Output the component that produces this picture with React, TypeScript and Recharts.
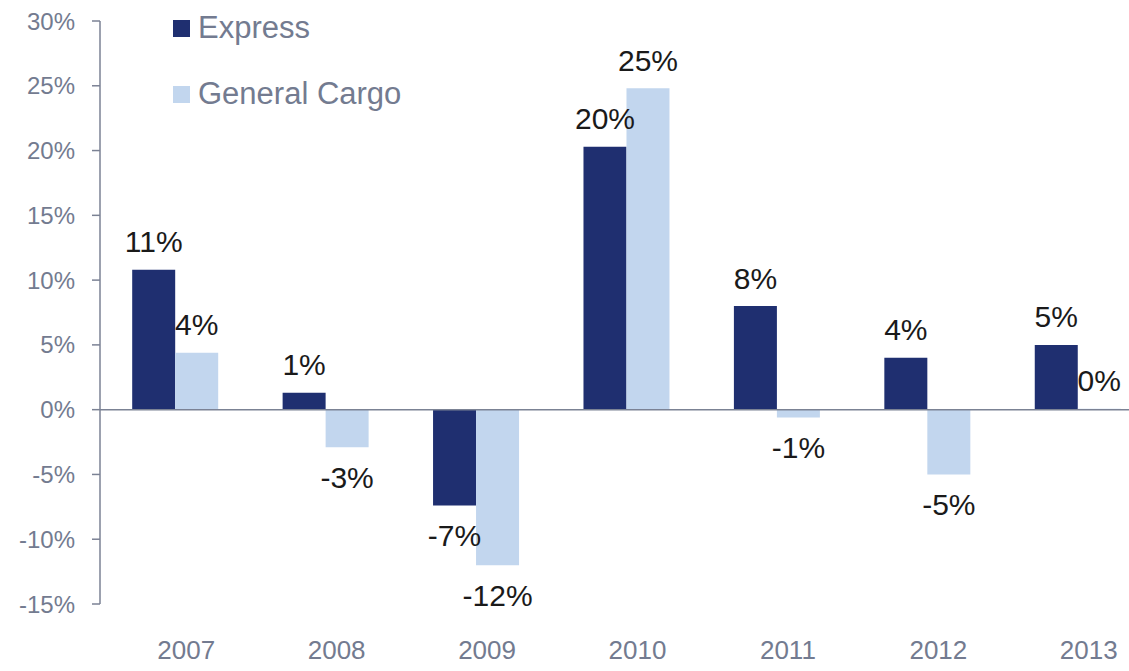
import { BarChart, Bar, XAxis, YAxis, ReferenceLine, Legend, LabelList } from 'recharts';

const years = ['2007', '2008', '2009', '2010', '2011', '2012', '2013'];
const expressGrowth = [10.8, 1.3, -7.4, 20.3, 8.0, 4.0, 5.0];
const generalCargoGrowth = [4.4, -2.9, -12.0, 24.8, -0.6, -5.0, 0];
const yTicks = [-15, -10, -5, 0, 5, 10, 15, 20, 25, 30];

const EXPRESS = '#1f2f70';
const GENERAL = '#c2d6ee';
const GREY = '#737b90';
const AXIS = '#7b8294';
const FONT = '"Liberation Sans", Arial, sans-serif';

const chartData = years.map((year, i) => ({
  year,
  express: expressGrowth[i],
  generalCargo: generalCargoGrowth[i],
}));

const series = [
  { key: 'express', name: 'Express', color: EXPRESS },
  { key: 'generalCargo', name: 'General Cargo', color: GENERAL },
];

function ValueLabel(props: any) {
  const { x, y, width, height, value } = props;
  const top = Math.min(y, y + height);
  const bottom = Math.max(y, y + height);
  const ty = value >= 0 ? top - 28 : bottom + 30;
  return (
    <text
      x={x + width / 2}
      y={ty}
      textAnchor="middle"
      dominantBaseline="central"
      fill="#1a1a1a"
      fontSize={30}
      fontFamily={FONT}
    >
      {`${Math.round(value)}%`}
    </text>
  );
}

function YearTick(props: any) {
  const { x, y, payload } = props;
  return (
    <text x={x + 11} y={y + 47} textAnchor="middle" fill={GREY} fontSize={26} fontFamily={FONT}>
      {payload.value}
    </text>
  );
}

function SeriesLegend() {
  return (
    <div style={{ fontFamily: FONT, fontSize: 31, color: GREY, lineHeight: '34px' }}>
      {series.map((s, i) => (
        <div key={s.key} style={{ display: 'flex', alignItems: 'center', height: 34, marginBottom: i === 0 ? 32 : 0 }}>
          <span style={{ display: 'inline-block', width: 17, height: 17, background: s.color, marginRight: 8 }} />
          {s.name}
        </div>
      ))}
    </div>
  );
}

export default function App() {
  return (
    <div style={{ position: 'fixed', top: 0, left: 0, width: 1129, height: 671, overflow: 'hidden', background: '#fff' }}>
      <BarChart
        width={1160}
        height={671}
        data={chartData}
        margin={{ top: 21, right: 7, bottom: 0, left: 0 }}
        barCategoryGap="21.4%"
        barGap={0}
      >
        <XAxis dataKey="year" axisLine={false} tickLine={false} height={67} tick={<YearTick />} interval={0} />
        <YAxis
          domain={[-15, 30]}
          ticks={yTicks}
          width={100}
          tickFormatter={(v: number) => `${v}%`}
          axisLine={{ stroke: AXIS, strokeWidth: 1.5 }}
          tickLine={{ stroke: AXIS, strokeWidth: 1.5 }}
          tickSize={8}
          tickMargin={17}
          tick={{ fill: GREY, fontSize: 24, fontFamily: FONT }}
        />
        <Legend
          layout="vertical"
          align="center"
          verticalAlign="middle"
          wrapperStyle={{ top: 11, left: 173, width: 320, height: 120 }}
          content={<SeriesLegend />}
        />
        {series.map((s) => (
          <Bar key={s.key} dataKey={s.key} name={s.name} fill={s.color} minPointSize={1} isAnimationActive={false}>
            <LabelList dataKey={s.key} content={<ValueLabel />} />
          </Bar>
        ))}
        <ReferenceLine y={0} stroke={AXIS} strokeWidth={1.5} />
      </BarChart>
    </div>
  );
}
